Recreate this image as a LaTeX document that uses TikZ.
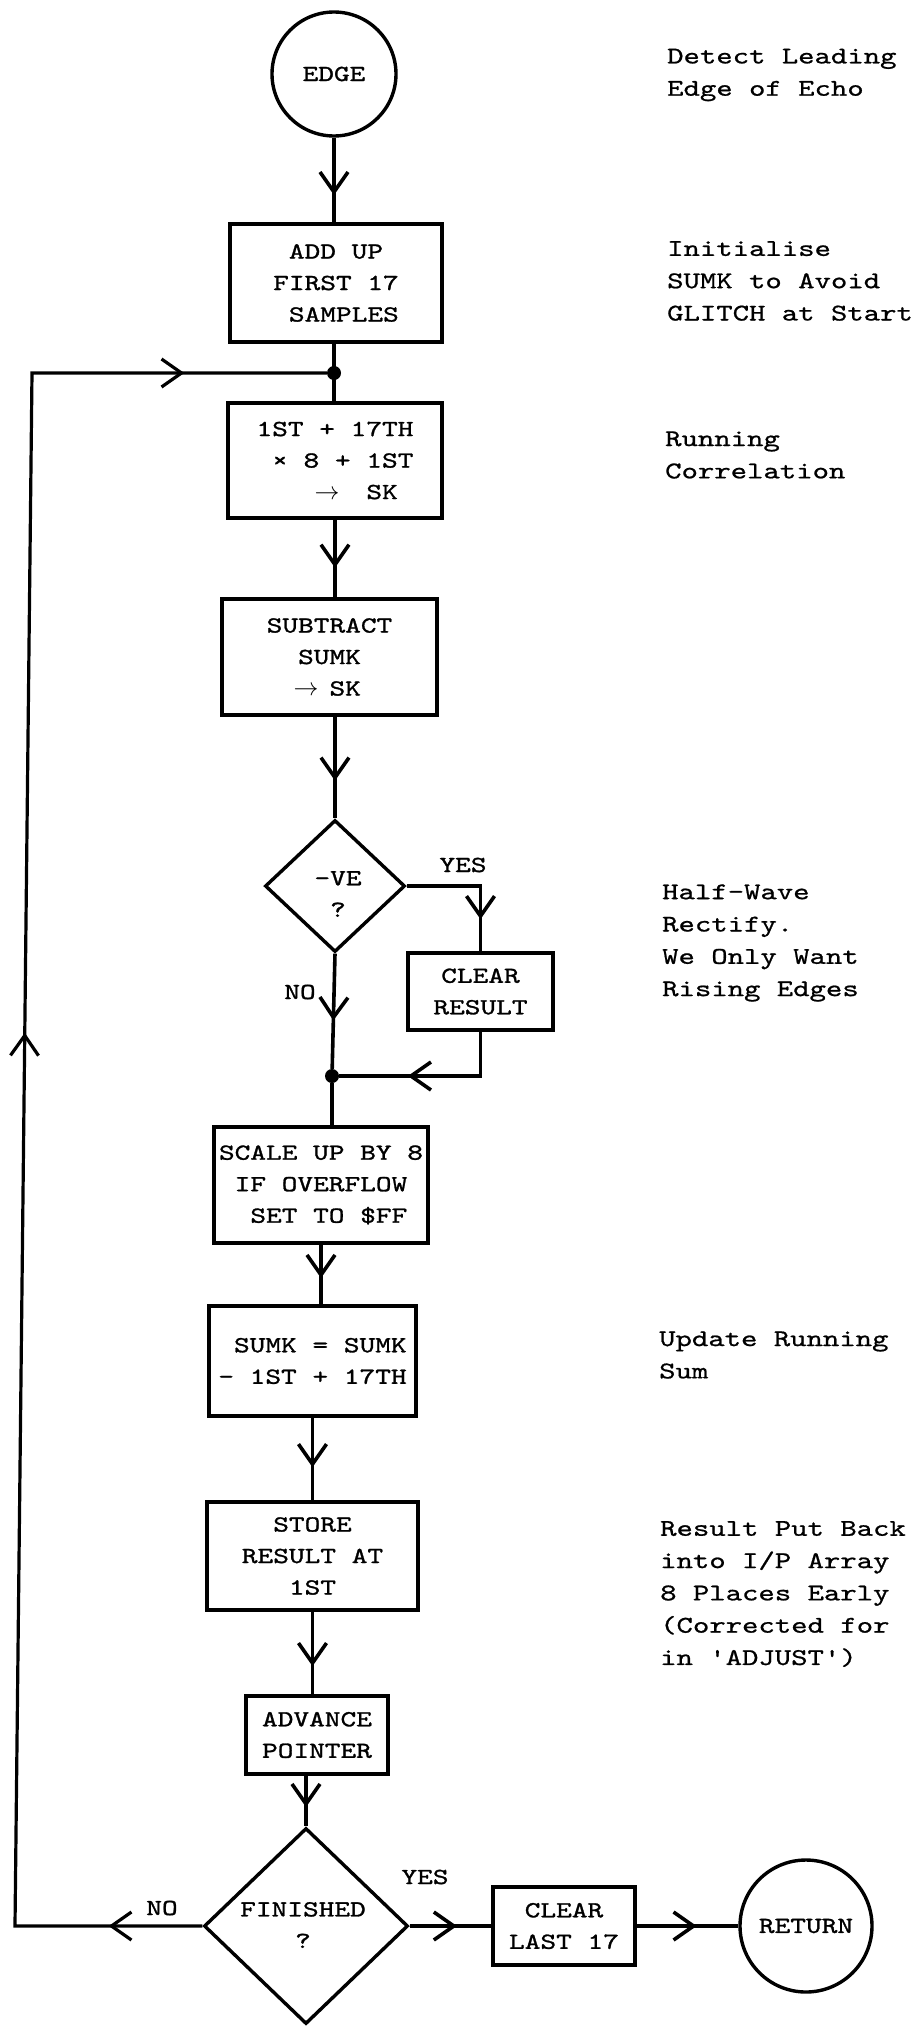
\documentclass[tikz,border=0pt]{standalone}
\usepackage{fontspec}
\newfontfamily\tw[FakeStretch=1.3,FakeBold=1.2,Ligatures=TeXOff]{lmmono10-regular.otf}
\newfontfamily\twn[FakeStretch=1.3,FakeBold=0.8,Ligatures=TeXOff]{lmmono10-regular.otf}
\usetikzlibrary{arrows.meta,decorations.markings,shapes.geometric}
\newcommand\boxfont{\tw\fontsize{23pt}{31.5pt}\selectfont}
\newcommand\notefont{\twn\fontsize{24pt}{32.3pt}\selectfont}
\newcommand\ksp{\phantom{0}}
\newcommand\arr{\setbox0\hbox{0}\hbox to\wd0{\hss$\rightarrow$\hss}}
\begin{document}
\begin{tikzpicture}[x=1pt,y=-1pt,
  every node/.style={inner sep=0pt},
  box/.style={draw, rectangle, line width=3.6pt, align=center, font=\boxfont},
  rnd/.style={draw, circle, line width=3.4pt, font=\boxfont},
  dia/.style={draw, diamond, line width=3.4pt},
  note/.style={anchor=west, align=left, font=\notefont},
  lbl/.style={font=\boxfont, align=center},
  flow/.style={line width=3.6pt},
  tipat/.style={postaction={decorate, decoration={markings, mark=at position #1 with {\arrow{Straight Barb[length=20pt,width=28pt]}}}}},
  dot/.style={circle, fill, minimum size=14pt}
]
\useasboundingbox (0,0) rectangle (918,2026);

% main column
\node[rnd, minimum size=124pt] (edge) at (334,74) {EDGE};
\node[box, minimum width=212pt, minimum height=118pt] (add) at (336,283) {ADD UP\\FIRST 17\\\ksp SAMPLES};
\node[dot] (j1) at (334,373) {};
\node[box, minimum width=214pt, minimum height=115pt] (corr) at (335,460.5)
  {1ST + 17TH\\\ksp× 8 + 1ST\\\ksp\ksp\ksp\ksp\arr\ksp\ksp SK\ksp};
\node[box, minimum width=215pt, minimum height=116pt] (sub) at (329.5,657) {SUBTRACT\\SUMK\\\arr\ SK};
\node[dia, minimum width=140pt, minimum height=132pt] (ve) at (335,886) {};
\node[lbl] (vetxt) at (338,894) {-VE\\?};
\node[lbl] (yes1) at (463,865) {YES};
\node[lbl] (no1) at (300,992) {NO};
\node[box, minimum width=145pt, minimum height=77pt] (clr) at (480.5,991.5) {CLEAR\\RESULT};
\node[dot] (j2) at (332,1076) {};
\node[box, minimum width=214pt, minimum height=116pt] (scale) at (321,1185)
  {SCALE UP BY 8\\\ksp IF OVERFLOW\ksp\\\ksp\ksp SET TO \$FF\ksp};
\node[box, minimum width=207pt, minimum height=110pt] (sumk) at (312.5,1361) {\ksp SUMK = SUMK\\- 1ST + 17TH};
\node[box, minimum width=211pt, minimum height=108pt] (store) at (312.5,1556) {STORE\\RESULT AT\\1ST};
\node[box, minimum width=142pt, minimum height=78pt] (adv) at (317,1735) {ADVANCE\\POINTER};
\node[dia, minimum width=204pt, minimum height=196pt] (fin) at (306,1926) {};
\node[lbl] (fintxt) at (303,1925) {FINISHED\\?};
\node[lbl] (no2) at (162,1908) {NO};
\node[lbl] (yes2) at (425,1877) {YES};
\node[box, minimum width=142pt, minimum height=78pt] (last) at (564,1926) {CLEAR\\LAST 17};
\node[rnd, minimum size=132pt] (ret) at (806,1926) {RETURN};

\coordinate (c1) at (15,1926);
\coordinate (c2) at (32,373);

% connectors
\draw[flow, tipat=0.68] (edge.south) -- (edge.south |- add.north);
\draw[flow] (j1 |- add.south) -- (j1 |- corr.north);
\draw[flow, tipat=0.62] (corr.south) -- (corr.south |- sub.north);
\draw[flow, tipat=0.63] (sub.south -| ve.north) -- (ve.north);
\draw[flow, tipat=0.77] (ve.east) -| (clr.north);
\draw[flow, tipat=0.58] (ve.south) -- (j2);
\draw[flow, tipat=0.63] (clr.south) |- (j2);
\draw[flow] (j2) -- (j2 |- scale.north);
\draw[flow, tipat=0.56] (scale.south) -- (scale.south |- sumk.north);
\draw[flow, tipat=0.6] (sumk.south) -- (sumk.south |- store.north);
\draw[flow, tipat=0.66] (store.south) -- (store.south |- adv.north);
\draw[flow, tipat=0.62] (fin.north |- adv.south) -- (fin.north);
\draw[flow, line width=3.2pt, tipat=0.046, tipat=0.531, tipat=0.93] (fin.west) -- (c1) -- (c2) -- (j1);
\draw[flow, tipat=0.58] (fin.east) -- (last.west);
\draw[flow, tipat=0.59] (last.east) -- (ret.west);

% annotations
\node[note] (n1) at (667,75) {Detect Leading\\Edge of Echo};
\node[note] (n2) at (667,281) {Initialise\\SUMK to Avoid\\GLITCH at Start};
\node[note] (n3) at (665,455) {Running\\Correlation};
\node[note] (n4) at (662,943) {Half-Wave\\Rectify.\\We Only Want\\Rising Edges};
\node[note] (n5) at (659,1355) {Update Running\\Sum};
\node[note] (n6) at (660,1594) {Result Put Back\\into I/P Array\\8 Places Early\\(Corrected for\\in 'ADJUST')};
\end{tikzpicture}
\end{document}
